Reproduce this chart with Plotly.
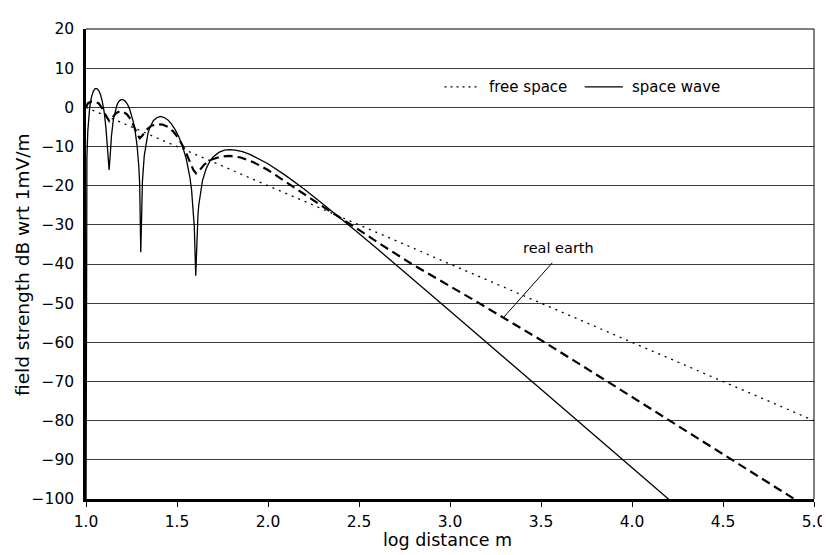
import plotly.graph_objects as go

# ---- data ----
free_x = [1.0, 2.0, 3.0, 4.0, 5.0]
free_y = [0.0, -20.0, -40.0, -60.0, -80.0]

space_x = [1.0, 1.005, 1.01, 1.02, 1.03, 1.04, 1.05, 1.06, 1.07, 1.08, 1.09, 1.10,
           1.11, 1.12, 1.127, 1.134, 1.14, 1.15, 1.16, 1.17, 1.18, 1.19, 1.20, 1.21,
           1.22, 1.23, 1.24, 1.25, 1.26, 1.27, 1.28, 1.29, 1.295, 1.301, 1.305, 1.31,
           1.32, 1.33, 1.34, 1.35, 1.37, 1.39, 1.41, 1.43, 1.45, 1.47, 1.49, 1.51,
           1.53, 1.55, 1.57, 1.58, 1.59, 1.595, 1.603, 1.61, 1.615, 1.62, 1.63, 1.64,
           1.66, 1.68, 1.70, 1.73, 1.76, 1.79, 1.82, 1.86, 1.90, 1.95, 2.0, 2.1,
           2.2, 2.3, 2.4, 2.5, 2.6, 2.8, 3.0, 3.5, 4.0, 4.25]
space_y = [-105.0, -12.8, -6.0, -0.2, 2.6, 4.1, 4.8, 4.8, 4.3, 3.2, 1.4, -1.2,
           -5.5, -12.5, -16.0, -11.5, -7.3, -3.2, -0.9, 0.6, 1.5, 1.9, 2.0, 1.8,
           1.3, 0.6, -0.5, -1.9, -3.7, -6.1, -9.5, -14.9, -19.8, -37.0, -27.2, -18.9,
           -12.4, -8.9, -6.7, -5.3, -3.4, -2.6, -2.3, -2.6, -3.2, -4.3, -5.7, -7.5,
           -9.9, -13.0, -17.6, -21.0, -26.3, -30.5, -43.0, -32.2, -27.6, -24.8, -21.1, -18.7,
           -15.7, -13.8, -12.6, -11.5, -10.9, -10.8, -10.9, -11.3, -12.0, -13.1, -14.4, -17.5,
           -20.9, -24.6, -28.3, -32.2, -36.1, -44.0, -52.0, -72.0, -92.0, -102.0]

earth_x = [1.0, 1.01, 1.03, 1.05, 1.07, 1.09, 1.11, 1.128, 1.145, 1.165, 1.185, 1.205,
           1.225, 1.245, 1.265, 1.28, 1.295, 1.31, 1.33, 1.36, 1.39, 1.42, 1.45, 1.48,
           1.51, 1.54, 1.57, 1.59, 1.605, 1.62, 1.65, 1.69, 1.74, 1.79, 1.85, 1.92,
           2.0, 2.1, 2.2, 2.3, 2.42, 2.5, 2.6, 2.79, 3.16, 3.52, 3.865, 4.205,
           4.545, 4.89, 4.95]
earth_y = [0.0, 1.0, 1.5, 1.5, 1.0, -0.3, -2.2, -3.5, -2.6, -1.5, -1.0, -1.1,
           -1.8, -3.0, -5.0, -6.8, -7.9, -7.2, -5.8, -4.7, -4.3, -4.4, -5.0, -6.2,
           -8.0, -10.6, -13.8, -16.0, -16.9, -16.3, -14.6, -13.3, -12.6, -12.4, -12.8, -14.0,
           -16.0, -19.0, -22.2, -25.3, -28.8, -31.3, -34.4, -40.0, -50.0, -60.0, -70.0, -80.0,
           -90.0, -100.0, -101.7]

x_ticks = [1.0, 1.5, 2.0, 2.5, 3.0, 3.5, 4.0, 4.5, 5.0]
y_ticks = [20, 10, 0, -10, -20, -30, -40, -50, -60, -70, -80, -90, -100]

FONT = "DejaVu Sans"

fig = go.Figure()
fig.add_trace(go.Scatter(x=free_x, y=free_y, mode="lines", name="free space",
                         line=dict(color="black", width=1.3, dash="2px,5px")))
fig.add_trace(go.Scatter(x=earth_x, y=earth_y, mode="lines", name="real earth",
                         line=dict(color="black", width=2.2, dash="9px,5px")))
fig.add_trace(go.Scatter(x=space_x, y=space_y, mode="lines", name="space wave",
                         line=dict(color="black", width=1.3)))

shapes = [
    # top and right frame
    dict(type="line", xref="paper", yref="paper", x0=0, x1=1, y0=1, y1=1,
         line=dict(color="black", width=1)),
    dict(type="line", xref="paper", yref="paper", x0=1, x1=1, y0=0, y1=1,
         line=dict(color="black", width=1)),
    # legend samples
    dict(type="line", xref="x", yref="y", x0=2.97, x1=3.16, y0=5.2, y1=5.2,
         line=dict(color="black", width=1.3, dash="2px,4px")),
    dict(type="line", xref="x", yref="y", x0=3.74, x1=3.95, y0=5.2, y1=5.2,
         line=dict(color="black", width=1.2)),
    # leader for "real earth"
    dict(type="line", xref="x", yref="y", x0=3.562, y0=-39.7, x1=3.291, y1=-53.8,
         line=dict(color="black", width=1)),
]

annotations = [
    dict(x=3.205, y=5.2, xref="x", yref="y", text="free space", showarrow=False,
         xanchor="left", yanchor="middle", font=dict(family=FONT, size=15, color="black")),
    dict(x=3.99, y=5.2, xref="x", yref="y", text="space wave", showarrow=False,
         xanchor="left", yanchor="middle", font=dict(family=FONT, size=15, color="black")),
    dict(x=3.594, y=-35.9, xref="x", yref="y", text="real earth", showarrow=False,
         xanchor="center", yanchor="middle", font=dict(family=FONT, size=14.5, color="black")),
    # axis titles
    dict(x=-0.088, y=0.5, xref="paper", yref="paper", text="field strength dB wrt 1mV/m",
         textangle=-90, showarrow=False, xanchor="center", yanchor="middle",
         font=dict(family=FONT, size=18.5, color="black")),
    dict(x=0.497, y=-0.088, xref="paper", yref="paper", text="log distance m",
         showarrow=False, xanchor="center", yanchor="middle",
         font=dict(family=FONT, size=17.5, color="black")),
]

fig.update_layout(
    width=830, height=555,
    margin=dict(l=78, r=14, t=15, b=64),
    paper_bgcolor="white", plot_bgcolor="white",
    showlegend=False,
    font=dict(family=FONT, size=15.5, color="black"),
    shapes=shapes, annotations=annotations,
)
fig.update_xaxes(range=[1.0, 5.0], tickvals=x_ticks,
                 ticktext=[f"{v:.1f}" for v in x_ticks],
                 showgrid=False, zeroline=False,
                 showline=True, linecolor="black", linewidth=2.5,
                 ticks="outside", ticklen=5, tickwidth=1, tickcolor="black",
                 ticklabelstandoff=2,
                 tickfont=dict(family=FONT, size=15.5))
fig.update_yaxes(range=[-100, 20], tickvals=y_ticks,
                 showgrid=True, gridcolor="#3a3a3a", gridwidth=1, zeroline=False,
                 showline=True, linecolor="black", linewidth=2.5,
                 ticks="", ticklabelstandoff=6,
                 tickfont=dict(family=FONT, size=15.5))

fig.write_html("out.html")
